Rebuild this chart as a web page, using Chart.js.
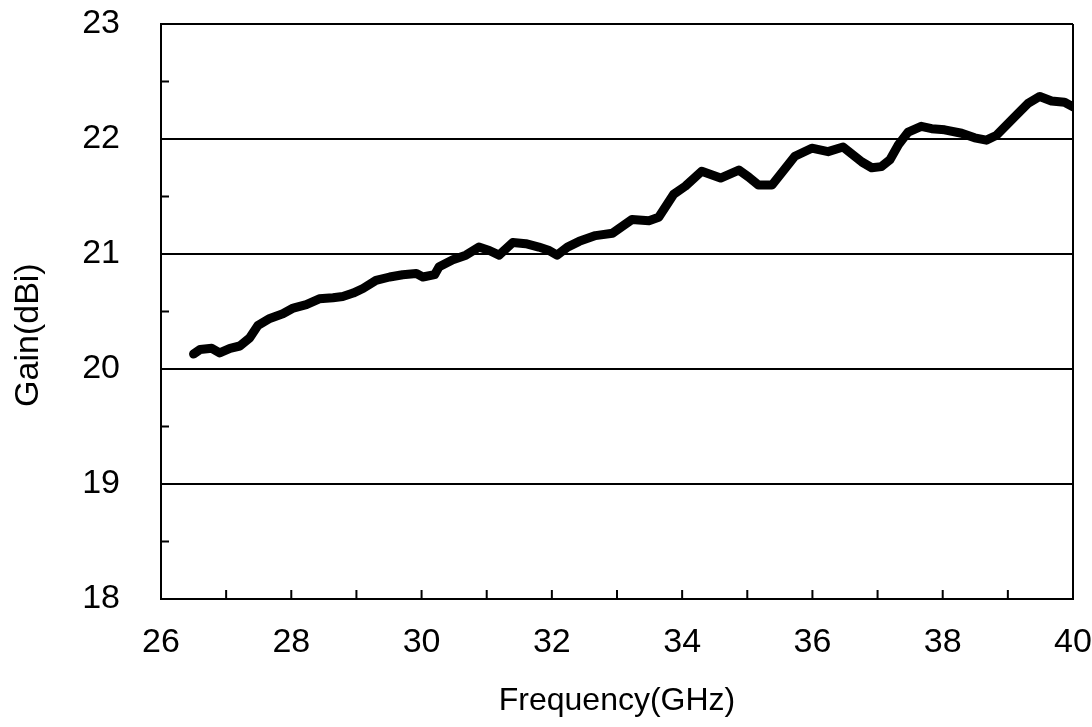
<!DOCTYPE html>
<html>
<head>
<meta charset="utf-8">
<script src="https://cdn.jsdelivr.net/npm/chart.js@4.4.1/dist/chart.umd.min.js"></script>
<style>
  html, body { margin: 0; padding: 0; background: #fff; }
  #wrap { width: 1092px; height: 727px; }
</style>
</head>
<body>
<div id="wrap"><canvas id="gain_chart"></canvas></div>
<script>
// valores
var frecuencias = [26.50, 26.60, 26.78, 26.90, 27.06, 27.21, 27.36, 27.49, 27.67, 27.87,
    28.03, 28.23, 28.43, 28.64, 28.79, 28.95, 29.10, 29.30, 29.51, 29.71,
    29.92, 30.02, 30.20, 30.27, 30.48, 30.68, 30.88, 31.04, 31.19, 31.40,
    31.60, 31.80, 31.96, 32.08, 32.24, 32.42, 32.67, 32.93, 33.23, 33.49,
    33.64, 33.87, 34.05, 34.30, 34.59, 34.87, 35.02, 35.17, 35.38, 35.73,
    35.99, 36.24, 36.47, 36.76, 36.91, 37.06, 37.19, 37.32, 37.47, 37.67,
    37.83, 38.03, 38.29, 38.49, 38.67, 38.82, 39.10, 39.31, 39.49, 39.67,
    39.87, 40.00];
var ganancias = [20.13, 20.17, 20.18, 20.14, 20.18, 20.20, 20.27, 20.38, 20.44, 20.48,
    20.53, 20.56, 20.61, 20.62, 20.63, 20.66, 20.70, 20.77, 20.80, 20.82,
    20.83, 20.80, 20.82, 20.89, 20.95, 20.99, 21.06, 21.03, 20.99, 21.10,
    21.09, 21.06, 21.03, 20.99, 21.06, 21.11, 21.16, 21.18, 21.30, 21.29,
    21.32, 21.52, 21.59, 21.72, 21.66, 21.73, 21.67, 21.60, 21.60, 21.85,
    21.92, 21.89, 21.93, 21.80, 21.75, 21.76, 21.82, 21.95, 22.06, 22.11,
    22.09, 22.08, 22.05, 22.01, 21.99, 22.03, 22.19, 22.31, 22.37, 22.33,
    22.32, 22.28];
var xMin = 26, xMax = 40, xPaso = 2;
var yMin = 18, yMax = 23, yPaso = 1;
var xMenores = [27, 28, 29, 30, 31, 32, 33, 34, 35, 36, 37, 38, 39];
var yMenores = [18.5, 19.5, 20.5, 21.5, 22.5];

var fuente = "'Liberation Sans', Arial, sans-serif";

var puntos = [];
frecuencias.forEach(function (f, i) {
    puntos.push({ x: f, y: ganancias[i] });
});

// marcas menores hacia dentro del area
var marcasMenores = {
    id: "marcasMenores",
    afterDatasetsDraw: function (chart) {
        var ctx = chart.ctx;
        var xs = chart.scales.x, ys = chart.scales.y;
        var area = chart.chartArea;
        ctx.save();
        ctx.strokeStyle = "#000";
        ctx.lineWidth = 2;
        ctx.beginPath();
        yMenores.forEach(function (v) {
            var py = ys.getPixelForValue(v);
            ctx.moveTo(area.left, py);
            ctx.lineTo(area.left + 8, py);
        });
        xMenores.forEach(function (v) {
            var px = xs.getPixelForValue(v);
            ctx.moveTo(px, area.bottom);
            ctx.lineTo(px, area.bottom - 9);
        });
        ctx.stroke();
        ctx.restore();
    }
};

var ctx = document.getElementById("gain_chart").getContext("2d");
var chart = new Chart(ctx, {
    type: "line",
    data: {
        datasets: [{
            label: "Gain",
            data: puntos,
            borderColor: "#000",
            borderWidth: 9,
            pointRadius: 0,
            tension: 0,
            borderJoinStyle: "round",
            borderCapStyle: "round",
            fill: false
        }]
    },
    options: {
        responsive: true,
        maintainAspectRatio: false,
        animation: false,
        layout: { padding: { left: 0, right: 19, top: 24, bottom: 0 } },
        plugins: {
            legend: { display: false },
            tooltip: { enabled: false }
        },
        scales: {
            x: {
                type: "linear",
                min: xMin,
                max: xMax,
                afterFit: function (scale) { scale.height = 128; },
                ticks: {
                    stepSize: xPaso,
                    color: "#000",
                    padding: 0,
                    maxRotation: 0,
                    font: { family: fuente, size: 34 }
                },
                grid: {
                    drawTicks: true,
                    tickLength: 23,
                    tickColor: "rgba(0,0,0,0)",
                    lineWidth: 2,
                    color: function (c) {
                        return c.tick && c.tick.value === xMax ? "#000" : "rgba(0,0,0,0)";
                    }
                },
                border: { display: true, color: "#000", width: 2 },
                title: {
                    display: true,
                    text: "Frequency(GHz)",
                    color: "#000",
                    padding: { top: 0, bottom: 7 },
                    font: { family: fuente, size: 32 }
                }
            },
            y: {
                min: yMin,
                max: yMax,
                afterFit: function (scale) { scale.width = 161; },
                ticks: {
                    stepSize: yPaso,
                    color: "#000",
                    padding: 0,
                    font: { family: fuente, size: 34 }
                },
                grid: {
                    drawTicks: true,
                    tickLength: 41,
                    tickColor: "rgba(0,0,0,0)",
                    lineWidth: 2,
                    color: "#000"
                },
                border: { display: true, color: "#000", width: 2 },
                title: {
                    display: true,
                    // espacios al final para bajar el titulo como en el original
                    text: "Gain(dBi)     ",
                    color: "#000",
                    padding: { top: 8, bottom: 0 },
                    font: { family: fuente, size: 34 }
                }
            }
        }
    },
    plugins: [marcasMenores]
});
</script>
</body>
</html>
